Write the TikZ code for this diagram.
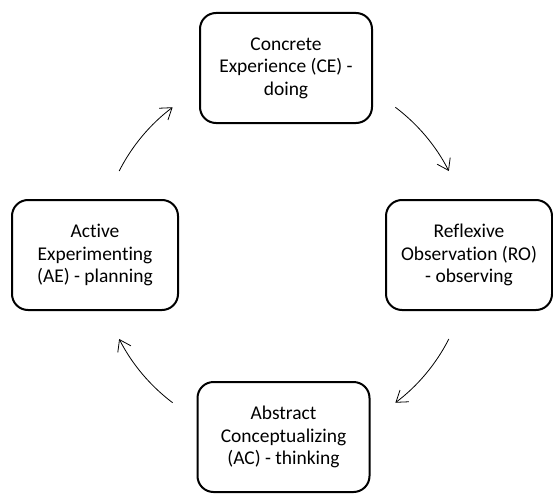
\documentclass[tikz,border=0pt]{standalone}
\usepackage{fontspec}
\setmainfont[Ligatures=NoCommon]{Carlito}
\usetikzlibrary{arrows.meta}

\begin{document}
\begin{tikzpicture}[x=0.75pt, y=0.75pt,
    stagebox/.style={draw=black, line width=1.5pt, rounded corners=12pt,
        align=center, inner sep=0pt, minimum height=82.5pt,
        font=\fontsize{14.6}{16.8}\selectfont},
    cyclearrow/.style={-{Straight Barb[length=8pt,width=11pt]}, line width=0.6pt}]

    % Picture frame
    \useasboundingbox (0,0) rectangle (553,494);

    % Centre of the cycle
    \coordinate (ctr) at (284,239);

    % Stages of the cycle
    \node[stagebox, minimum width=129pt] (ce) at (286,426)
        {Concrete\\Experience (CE) -\\doing};
    \node[stagebox, minimum width=124.5pt] (ro) at (469,239)
        {Reflexive\\Observation (RO)\\- observing};
    \node[stagebox, minimum width=129pt] (ac) at (283.5,57)
        {Abstract\\Conceptualizing\\(AC) - thinking};
    \node[stagebox, minimum width=124.5pt] (ae) at (95,239)
        {Active\\Experimenting\\(AE) - planning};

    % Arrows between the stages
    \foreach \a/\b in {153/127, 53/27, -27/-53, -127/-153} {
        \draw[cyclearrow] ([shift={(\a:185)}]ctr)
            arc[start angle=\a, end angle=\b, radius=185];
    }

\end{tikzpicture}
\end{document}
